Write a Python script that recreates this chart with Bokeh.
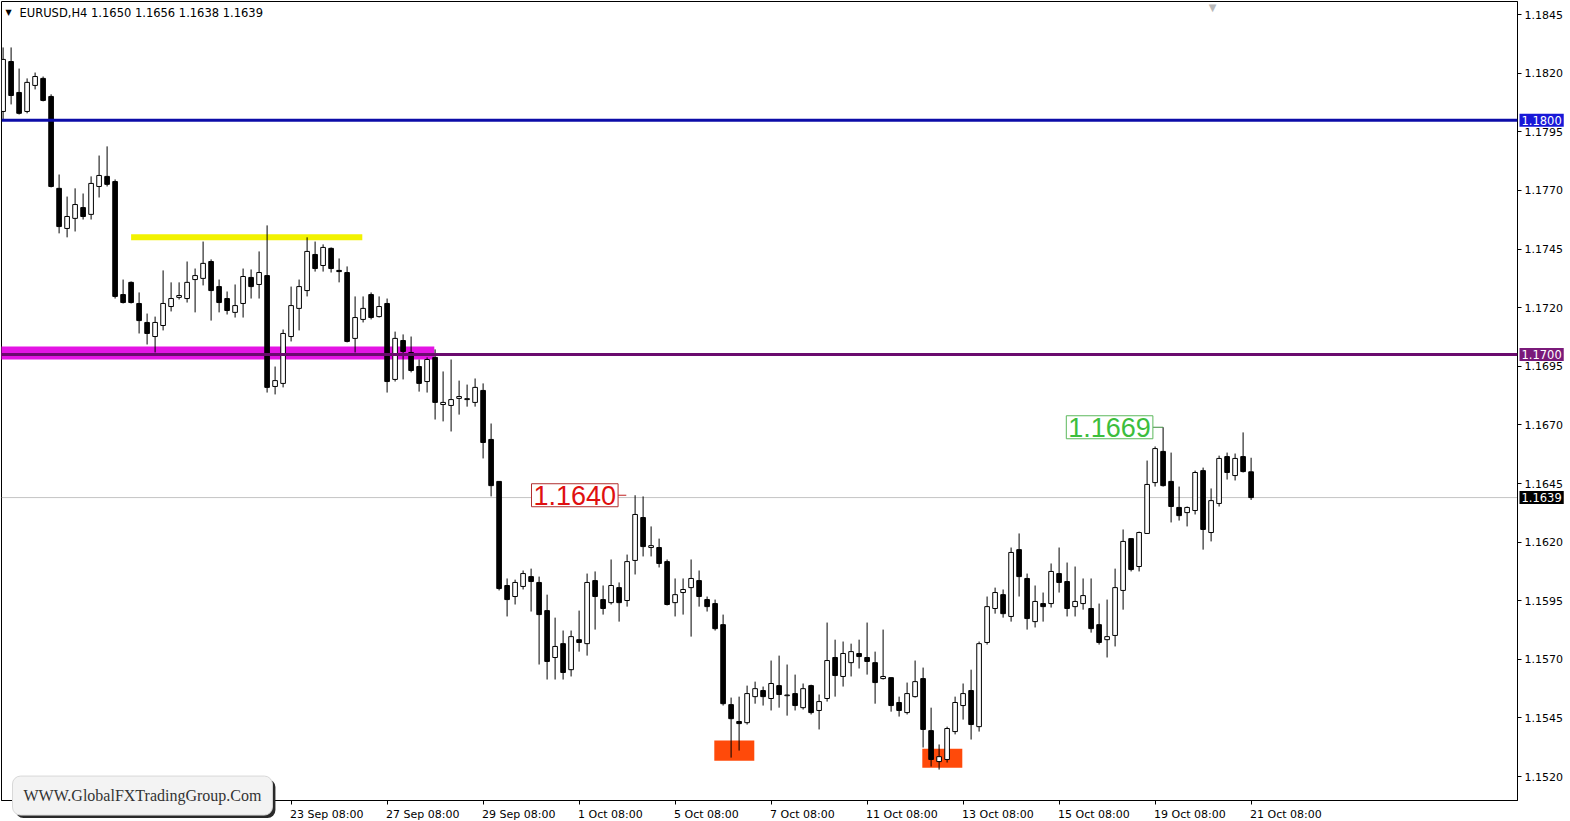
import pandas as pd
from bokeh.plotting import figure
from bokeh.models import Range1d, FixedTicker, PrintfTickFormatter, Label, ColumnDataSource, Span
from bokeh.embed import file_html
from bokeh.resources import INLINE

# ---------------- data (EURUSD H4) ----------------
symbol = "EURUSD,H4"
first_bar = "2021-09-15 08:00"

opens = [
    1.18037, 1.18250, 1.18118, 1.18037, 1.18148, 1.18178, 1.18101, 1.17709, 1.17538, 1.17581,
    1.17627, 1.17598, 1.17717, 1.17760, 1.17738, 1.17256, 1.17308, 1.17218, 1.17137, 1.17077,
    1.17124, 1.17205, 1.17244, 1.17239, 1.17320, 1.17325, 1.17397, 1.17290, 1.17239, 1.17180,
    1.17218, 1.17329, 1.17299, 1.17337, 1.16864, 1.16877, 1.17077, 1.17197, 1.17273, 1.17427,
    1.17380, 1.17453, 1.17359, 1.17350, 1.17069, 1.17150, 1.17256, 1.17162, 1.17218, 1.16894,
    1.17060, 1.17009, 1.16949, 1.16885, 1.16988, 1.16787, 1.16783, 1.16813, 1.16808, 1.16796,
    1.16847, 1.16638, 1.16459, 1.16015, 1.15968, 1.16011, 1.16053, 1.16028, 1.15908, 1.15708,
    1.15767, 1.15656, 1.15784, 1.15767, 1.16036, 1.15955, 1.15942, 1.16006, 1.15951, 1.16122,
    1.16305, 1.16177, 1.16177, 1.16117, 1.15942, 1.15985, 1.16006, 1.16036, 1.15955, 1.15938,
    1.15848, 1.15507, 1.15435, 1.15430, 1.15541, 1.15567, 1.15533, 1.15588, 1.15545, 1.15554,
    1.15494, 1.15588, 1.15482, 1.15533, 1.15708, 1.15627, 1.15686, 1.15725, 1.15708, 1.15686,
    1.15618, 1.15622, 1.15516, 1.15473, 1.15541, 1.15618, 1.15396, 1.15264, 1.15273, 1.15392,
    1.15503, 1.15567, 1.15413, 1.15772, 1.15917, 1.15976, 1.15883, 1.16168, 1.16045, 1.15861,
    1.15938, 1.15938, 1.16066, 1.16032, 1.15925, 1.15938, 1.15917, 1.15848, 1.15784, 1.15802,
    1.15994, 1.16215, 1.16096, 1.16237, 1.16454, 1.16587, 1.16459, 1.16348, 1.16326, 1.16335,
    1.16505, 1.16241, 1.16365, 1.16565, 1.16484, 1.16565, 1.16500,
]
highs = [
    1.18310, 1.18310, 1.18220, 1.18178, 1.18203, 1.18186, 1.18110, 1.17768, 1.17674, 1.17709,
    1.17687, 1.17760, 1.17849, 1.17888, 1.17747, 1.17320, 1.17312, 1.17265, 1.17175, 1.17162,
    1.17359, 1.17308, 1.17308, 1.17397, 1.17367, 1.17482, 1.17406, 1.17320, 1.17269, 1.17299,
    1.17367, 1.17363, 1.17440, 1.17551, 1.16949, 1.17107, 1.17290, 1.17320, 1.17500, 1.17482,
    1.17470, 1.17457, 1.17410, 1.17376, 1.17248, 1.17248, 1.17265, 1.17248, 1.17239, 1.17098,
    1.17086, 1.17077, 1.16979, 1.16988, 1.17022, 1.16928, 1.16979, 1.16889, 1.16872, 1.16898,
    1.16877, 1.16706, 1.16459, 1.16045, 1.16040, 1.16079, 1.16087, 1.16053, 1.15976, 1.15878,
    1.15823, 1.15823, 1.15908, 1.16066, 1.16075, 1.16015, 1.16126, 1.16028, 1.16147, 1.16400,
    1.16395, 1.16267, 1.16215, 1.16126, 1.16045, 1.16045, 1.16126, 1.16079, 1.15968, 1.15955,
    1.15891, 1.15537, 1.15541, 1.15588, 1.15605, 1.15584, 1.15695, 1.15716, 1.15678, 1.15635,
    1.15597, 1.15592, 1.15550, 1.15857, 1.15784, 1.15776, 1.15767, 1.15784, 1.15857, 1.15733,
    1.15827, 1.15622, 1.15541, 1.15601, 1.15695, 1.15665, 1.15494, 1.15337, 1.15413, 1.15541,
    1.15597, 1.15656, 1.15776, 1.15968, 1.16006, 1.15998, 1.16177, 1.16237, 1.16066, 1.16015,
    1.15985, 1.16109, 1.16177, 1.16113, 1.16096, 1.16045, 1.16045, 1.15938, 1.15955, 1.16087,
    1.16254, 1.16215, 1.16245, 1.16548, 1.16608, 1.16690, 1.16582, 1.16437, 1.16352, 1.16505,
    1.16518, 1.16429, 1.16569, 1.16582, 1.16578, 1.16668, 1.16560,
]
lows = [
    1.18003, 1.18067, 1.18024, 1.18029, 1.18131, 1.18080, 1.17713, 1.17517, 1.17500, 1.17525,
    1.17576, 1.17576, 1.17670, 1.17717, 1.17239, 1.17218, 1.17218, 1.17090, 1.17043, 1.17009,
    1.17103, 1.17184, 1.17235, 1.17222, 1.17180, 1.17295, 1.17145, 1.17180, 1.17171, 1.17158,
    1.17158, 1.17239, 1.17239, 1.16838, 1.16830, 1.16860, 1.17056, 1.17103, 1.17248, 1.17354,
    1.17354, 1.17350, 1.17308, 1.17052, 1.17009, 1.17137, 1.17150, 1.17158, 1.16838, 1.16885,
    1.16894, 1.16924, 1.16842, 1.16838, 1.16723, 1.16715, 1.16672, 1.16744, 1.16778, 1.16778,
    1.16557, 1.16395, 1.15994, 1.15883, 1.15934, 1.15998, 1.15904, 1.15678, 1.15614, 1.15614,
    1.15614, 1.15627, 1.15733, 1.15716, 1.15827, 1.15891, 1.15934, 1.15861, 1.15925, 1.16062,
    1.16139, 1.16139, 1.16092, 1.15930, 1.15883, 1.15891, 1.15797, 1.15925, 1.15904, 1.15823,
    1.15503, 1.15281, 1.15311, 1.15422, 1.15511, 1.15503, 1.15482, 1.15494, 1.15460, 1.15482,
    1.15486, 1.15465, 1.15401, 1.15520, 1.15541, 1.15584, 1.15627, 1.15661, 1.15635, 1.15511,
    1.15614, 1.15477, 1.15456, 1.15465, 1.15537, 1.15324, 1.15243, 1.15230, 1.15260, 1.15380,
    1.15443, 1.15358, 1.15392, 1.15763, 1.15895, 1.15878, 1.15861, 1.15968, 1.15827, 1.15836,
    1.15861, 1.15921, 1.15985, 1.15883, 1.15883, 1.15912, 1.15814, 1.15763, 1.15708, 1.15755,
    1.15912, 1.16075, 1.16075, 1.16237, 1.16437, 1.16437, 1.16284, 1.16292, 1.16267, 1.16318,
    1.16168, 1.16203, 1.16352, 1.16467, 1.16463, 1.16497, 1.16380,
]
closes = [
    1.18259, 1.18105, 1.18029, 1.18161, 1.18186, 1.18084, 1.17717, 1.17546, 1.17589, 1.17640,
    1.17589, 1.17730, 1.17764, 1.17726, 1.17248, 1.17222, 1.17222, 1.17145, 1.17090, 1.17137,
    1.17218, 1.17239, 1.17252, 1.17308, 1.17337, 1.17389, 1.17273, 1.17222, 1.17188, 1.17209,
    1.17333, 1.17290, 1.17350, 1.16860, 1.16889, 1.17090, 1.17209, 1.17290, 1.17440, 1.17367,
    1.17457, 1.17367, 1.17354, 1.17056, 1.17158, 1.17197, 1.17158, 1.17205, 1.16885, 1.17069,
    1.17013, 1.16932, 1.16877, 1.16979, 1.16796, 1.16796, 1.16808, 1.16821, 1.16812, 1.16860,
    1.16625, 1.16441, 1.16002, 1.15955, 1.16028, 1.16066, 1.16032, 1.15891, 1.15691, 1.15755,
    1.15644, 1.15797, 1.15772, 1.16028, 1.15968, 1.15917, 1.16015, 1.15942, 1.16117, 1.16318,
    1.16181, 1.16185, 1.16109, 1.15934, 1.15976, 1.15998, 1.16045, 1.15968, 1.15925, 1.15831,
    1.15511, 1.15447, 1.15426, 1.15554, 1.15575, 1.15541, 1.15597, 1.15550, 1.15548, 1.15503,
    1.15575, 1.15473, 1.15520, 1.15695, 1.15631, 1.15725, 1.15733, 1.15712, 1.15691, 1.15601,
    1.15627, 1.15503, 1.15482, 1.15554, 1.15605, 1.15401, 1.15273, 1.15285, 1.15405, 1.15516,
    1.15554, 1.15422, 1.15767, 1.15925, 1.15985, 1.15895, 1.16156, 1.16053, 1.15874, 1.15947,
    1.15925, 1.16075, 1.16028, 1.15917, 1.15947, 1.15972, 1.15831, 1.15772, 1.15797, 1.16006,
    1.16203, 1.16083, 1.16241, 1.16446, 1.16599, 1.16441, 1.16352, 1.16313, 1.16348, 1.16497,
    1.16254, 1.16377, 1.16557, 1.16497, 1.16557, 1.16501, 1.16390,
]

tick_labels = ["23 Sep 08:00", "27 Sep 08:00", "29 Sep 08:00", "1 Oct 08:00", "5 Oct 08:00",
               "7 Oct 08:00", "11 Oct 08:00", "13 Oct 08:00", "15 Oct 08:00", "19 Oct 08:00",
               "21 Oct 08:00"]
price_ticks = [1.1520, 1.1545, 1.1570, 1.1595, 1.1620, 1.1645, 1.1670,
               1.1695, 1.1720, 1.1745, 1.1770, 1.1795, 1.1820, 1.1845]

level_blue = 1.1800
level_purple = 1.1700
yellow_level = 1.1750
yellow_bars = [16, 44.9]
zone_band = [1.16979, 1.17034]
zone_band_bars = [-1, 53.9]
orange_left = [88.9, 114.9]
orange_right = [93.9, 119.9]
orange_bottom = [1.15268, 1.15238]
orange_top = [1.15354, 1.15319]
mark_high_a = 1.1640
mark_high_b = 1.1669

# ---------------- bar times / x ticks ----------------
t = pd.Timestamp(first_bar)
bar_times = []
while len(bar_times) < len(opens):
    if t.dayofweek < 5:
        bar_times.append(t)
    t += pd.Timedelta(hours=4)
bar_names = [f"{b.day} {b.strftime('%b %H:%M')}" for b in bar_times]
tick_idx = [bar_names.index(s) for s in tick_labels]

idx = list(range(len(opens)))
tops = [max(o, c) for o, c in zip(opens, closes)]
bots = [min(o, c) for o, c in zip(opens, closes)]
fills = ["white" if c >= o else "black" for o, c in zip(opens, closes)]
src = ColumnDataSource(dict(x=idx, high=highs, low=lows, top=tops, bottom=bots, fill=fills))

X0, X1 = -0.2, 189.3
Y0, Y1 = 1.15098, 1.18506
FW = 1516
PX_PER_BAR = FW / (X1 - X0)

p = figure(frame_width=FW, frame_height=799, x_range=Range1d(X0, X1), y_range=Range1d(Y0, Y1),
           y_axis_location="right", output_backend="svg", toolbar_location=None,
           min_border=0, min_border_left=1, min_border_top=1,
           background_fill_color="white", border_fill_color="white")
p.grid.visible = False
p.outline_line_color = "black"
p.outline_line_width = 1

# y axis (right)
ya = p.yaxis[0]
ya.ticker = FixedTicker(ticks=price_ticks, minor_ticks=[])
ya.formatter = PrintfTickFormatter(format="%.4f")
ya.major_label_text_font = "DejaVu Sans"
ya.major_label_text_font_size = "11px"
ya.major_label_text_color = "black"
ya.major_tick_in = 0
ya.major_tick_out = 4
ya.minor_tick_out = 0
ya.major_label_standoff = 3
ya.axis_line_color = "black"

# x axis: small tick marks on the bars (minor ticks), labels starting at the tick (MT4 style)
char_w = {"0": .636, "1": .636, "2": .636, "3": .636, "4": .636, "5": .636, "6": .636, "7": .636,
          "8": .636, "9": .636, " ": .318, ":": .337, "S": .635, "e": .615, "p": .635, "O": .787,
          "c": .55, "t": .392}
label_pos = []
for i, s in zip(tick_idx, tick_labels):
    w = sum(char_w.get(ch, .6) for ch in s) * 11
    label_pos.append(i + (w / 2 - 1) / PX_PER_BAR)

xa = p.xaxis[0]
xa.ticker = FixedTicker(ticks=label_pos, minor_ticks=tick_idx)
xa.major_label_overrides = {pos: s for pos, s in zip(label_pos, tick_labels)}
xa.major_label_text_font = "DejaVu Sans"
xa.major_label_text_font_size = "11px"
xa.major_label_text_color = "black"
xa.major_tick_in = 0
xa.major_tick_out = 0
xa.minor_tick_in = 0
xa.minor_tick_out = 4
xa.minor_tick_line_color = "black"
xa.major_label_standoff = 3
xa.axis_line_color = "black"

# background objects
p.quad(left=orange_left, right=orange_right, bottom=orange_bottom, top=orange_top,
       fill_color="#FF4A0A", line_color=None)
p.quad(left=[zone_band_bars[0]], right=[zone_band_bars[1]], bottom=[zone_band[0]], top=[zone_band[1]],
       fill_color="#E414E4", line_color=None)
p.segment(x0=[yellow_bars[0]], x1=[yellow_bars[1]], y0=[yellow_level], y1=[yellow_level],
          line_color="#F2F200", line_width=6)
p.add_layout(Span(location=closes[-1], dimension="width", line_color="#C4C4C4", line_width=1, level="underlay"))

# candles
p.segment(x0="x", x1="x", y0="low", y1="high", source=src, line_color="black", line_width=1)
p.vbar(x="x", width=0.58, top="top", bottom="bottom", fill_color="fill", line_color="black",
       line_width=1, source=src)

# horizontal levels
p.add_layout(Span(location=level_blue, dimension="width", line_color="#0C0CA8", line_width=3))
p.add_layout(Span(location=level_purple, dimension="width", line_color="#6A0A6E", line_width=3))

# axis price boxes (placed in the right side panel so they are not clipped to the frame)
for lvl, bg in [(level_blue, "#1818D8"), (level_purple, "#7A1A7A"), (closes[-1], "black")]:
    p.add_layout(Label(x=X1, y=lvl, x_offset=2, text=f"{lvl:.4f}", text_align="left",
                       text_baseline="middle", text_color="white", text_font="DejaVu Sans",
                       text_font_size="11.5px", background_fill_color=bg, padding=2, level="overlay"),
                 "right")

# marked highs
p.add_layout(Label(x=66.05, y=mark_high_a, text=f"{mark_high_a:.4f}", text_align="left",
                   text_baseline="middle", text_color="#E01010", text_font="Liberation Sans",
                   text_font_size="27px", background_fill_color="white", border_line_color="#B03030",
                   border_line_width=1, padding=2))
p.segment(x0=[76.7], x1=[77.9], y0=[mark_high_a], y1=[mark_high_a], line_color="#C02020", line_width=1)
p.add_layout(Label(x=132.9, y=mark_high_b, text=f"{mark_high_b:.4f}", text_align="left",
                   text_baseline="middle", text_color="#3CBE3C", text_font="Liberation Sans",
                   text_font_size="27px", background_fill_color="white", border_line_color="#5CB85C",
                   border_line_width=1, padding=2))
p.segment(x0=[143.7], x1=[145], y0=[mark_high_b], y1=[mark_high_b], line_color="#3C8C3C", line_width=1)

# header
header = f"{symbol}  {opens[-1]:.4f} {highs[-1]:.4f} {lows[-1]:.4f} {closes[-1]:.4f}"
p.add_layout(Label(x=2.05, y=1.18459, text=header, text_align="left", text_baseline="middle",
                   text_color="black", text_font="DejaVu Sans", text_font_size="11.5px"))
p.add_layout(Label(x=0.3, y=1.18459, text="\u25BC", text_align="left", text_baseline="middle",
                   text_color="black", text_font="DejaVu Sans", text_font_size="8px"))
p.add_layout(Label(x=151.2, y=Y1, text="\u25BC", text_align="center", text_baseline="top",
                   text_color="#B8B8B8", text_font="DejaVu Sans", text_font_size="10px"))

# watermark (in the lower side panel so it may overlap the axis area)
wm = "WWW.GlobalFXTradingGroup.Com"
p.add_layout(Label(x=1.175, y=1.15119, x_offset=3, y_offset=-3, text=wm, text_align="left",
                   text_baseline="middle", text_color="#222222", text_font="Liberation Serif",
                   text_font_size="16px", background_fill_color="#2A2A2A", padding=11,
                   border_radius=8, level="overlay"), "below")
p.add_layout(Label(x=1.175, y=1.15119, text=wm, text_align="left",
                   text_baseline="middle", text_color="#333333", text_font="Liberation Serif",
                   text_font_size="16px", background_fill_color="#F3F3F3", border_line_color="#D8D8D8",
                   padding=11, border_radius=8, level="overlay"), "below")

open("out.html", "w").write(file_html(p, INLINE))
